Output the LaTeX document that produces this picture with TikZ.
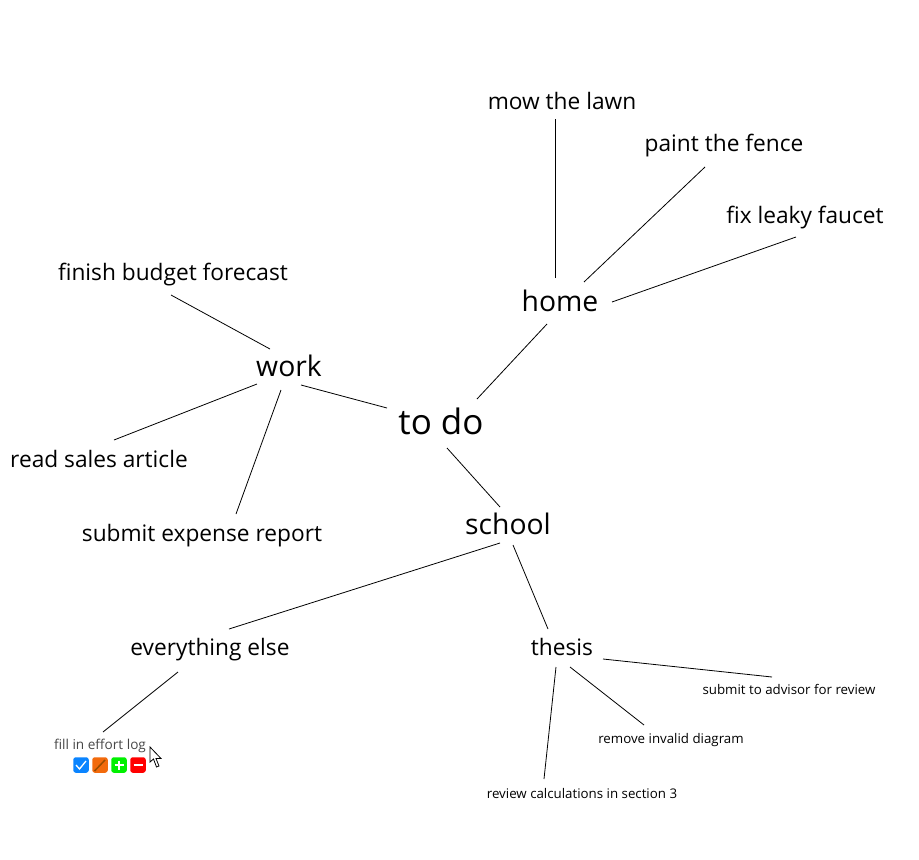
\documentclass[tikz,border=0pt]{standalone}
\usepackage{fontspec}
\setmainfont{Open Sans}
\tikzset{x=1pt,y=-1pt,
 base/.style={inner sep=0pt,text=black,anchor=center},
 lvA/.style={base,font=\fontsize{35}{38}\selectfont},
 lvB/.style={base,font=\fontsize{28.3}{34}\selectfont},
 lvC/.style={base,font=\fontsize{22.7}{27}\selectfont},
 lvD/.style={base,font=\fontsize{13.3}{16}\selectfont},
 lvE/.style={base,font=\fontsize{13.6}{16}\selectfont,text=black!72},
 link/.style={draw=black,line width=0.8pt},
 btn/.style={minimum size=15.5pt,inner sep=0pt,rounded corners=2.5pt,text=white}
}
\definecolor{bblue}{HTML}{0A84FF}
\definecolor{borange}{HTML}{F26A0C}
\definecolor{bgreen}{HTML}{00F000}
\definecolor{bred}{HTML}{FF0000}
\begin{document}
\begin{tikzpicture}
\useasboundingbox (0,0) rectangle (919,860);
\node[lvA] (todo) at (441,421.5) {to do};
\node[lvB] (home) at (560,301) {home};
\node[lvB] (work) at (289,366) {work};
\node[lvB] (school) at (508,524) {school};
\node[lvC] (mow) at (562,101) {mow the lawn};
\node[lvC] (paint) at (724,146) {paint the fence};
\node[lvC] (fix) at (805,218) {fix leaky faucet};
\node[lvC] (budget) at (173,275) {finish budget forecast};
\node[lvC] (sales) at (99,459) {read sales article};
\node[lvC] (expense) at (202,536) {submit expense report};
\node[lvC] (else) at (210,650) {everything else};
\node[lvC] (thesis) at (562,647) {thesis};
\node[lvD] (advisor) at (789,689) {submit to advisor for review};
\node[lvD] (invalid) at (671,740) {remove invalid diagram};
\node[lvD] (calc) at (582,794) {review calculations in section 3};
\node[lvE] (effort) at (100,746) {fill in effort log};
% connector end points
\coordinate (a1) at (477,399); \coordinate (a2) at (547,324);
\coordinate (b1) at (387,408); \coordinate (b2) at (301,385);
\coordinate (c1) at (447,448); \coordinate (c2) at (500,507);
\coordinate (d1) at (555.5,278); \coordinate (d2) at (555.5,119);
\coordinate (e1) at (584,282); \coordinate (e2) at (705,167);
\coordinate (f1) at (612,302); \coordinate (f2) at (796,237);
\coordinate (g1) at (270,349); \coordinate (g2) at (171,295);
\coordinate (h1) at (257,384); \coordinate (h2) at (114,440);
\coordinate (i1) at (281,390); \coordinate (i2) at (236,514);
\coordinate (j1) at (500,543); \coordinate (j2) at (229,629);
\coordinate (k1) at (513,545); \coordinate (k2) at (548,629);
\coordinate (l1) at (178,672); \coordinate (l2) at (103,732);
\coordinate (m1) at (603,659); \coordinate (m2) at (772,677);
\coordinate (n1) at (570,667); \coordinate (n2) at (644,725);
\coordinate (o1) at (556,667); \coordinate (o2) at (544,779);
\foreach \p/\q in {a1/a2,b1/b2,c1/c2,d1/d2,e1/e2,f1/f2,g1/g2,h1/h2,i1/i2,j1/j2,k1/k2,l1/l2,m1/m2,n1/n2,o1/o2}
  \draw[link] (\p) -- (\q);
% toolbar
\node[btn,fill=bblue] (bt1) at (81,765) {};
\node[btn,fill=borange] (bt2) at (100,765) {};
\node[btn,fill=bgreen] (bt3) at (119,765) {};
\node[btn,fill=bred] (bt4) at (138,765) {};
\draw[white,line width=1.3pt] (76,765) -- (79.5,769) -- (86,761);
\draw[black!40!orange,line width=1.5pt] (94.5,771) -- (105,760);
\draw[white,line width=2pt] (114.5,765) -- (123.5,765) (119,760.5) -- (119,769.5);
\draw[white,line width=2pt] (133.5,765) -- (142.5,765);
% cursor
\draw[fill=white,draw=black,line width=0.8pt,line join=miter]
 (150,747) -- (150,762) -- (153.5,759) -- (156.5,767) -- (159,766) -- (156,758.5) -- (161,758.5) -- cycle;
\end{tikzpicture}
\end{document}
